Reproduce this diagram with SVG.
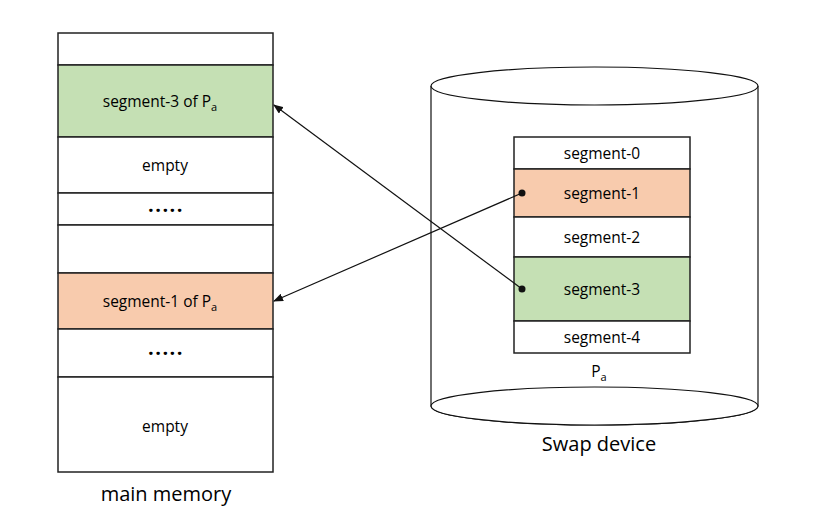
<svg xmlns="http://www.w3.org/2000/svg" width="833" height="522" viewBox="0 0 833 522">
<style>
.cell{stroke:#222;stroke-width:1.5}
.w{fill:#fff}.g{fill:#C5E0B4}.o{fill:#F8CBAD}
.t{font-family:"Open Sans","Noto Sans",sans-serif;font-size:15.5px;fill:#000;text-anchor:middle}
.dots{font-family:"Open Sans","Noto Sans",sans-serif;font-size:20px;font-weight:bold;fill:#000;text-anchor:middle;letter-spacing:1.5px}
.big{font-family:"Open Sans","Noto Sans",sans-serif;font-size:20px;fill:#000;text-anchor:middle}
.cyl{fill:#fff;stroke:#111;stroke-width:1.2}
.conn{stroke:#111;stroke-width:1.2;fill:none}
</style>
<defs>
<marker id="ah" markerWidth="10" markerHeight="8" refX="9" refY="4" orient="auto" markerUnits="userSpaceOnUse">
<path d="M0,0 L10,4 L0,8 Z" fill="#111"/>
</marker>
</defs>
<rect width="833" height="522" fill="#fff"/>
<g id="main-memory">
<rect class="cell w" x="58" y="33" width="215" height="32"/>
<rect class="cell g" x="58" y="65" width="215" height="72"/>
<text class="t" x="160" y="107">segment-3 of P<tspan font-size="11" dy="4">a</tspan></text>
<rect class="cell w" x="58" y="137" width="215" height="56"/>
<text class="t" x="165" y="171">empty</text>
<rect class="cell w" x="58" y="193" width="215" height="32"/>
<text class="dots" x="166" y="212">.....</text>
<rect class="cell w" x="58" y="225" width="215" height="48"/>
<rect class="cell o" x="58" y="273" width="215" height="56"/>
<text class="t" x="160" y="307">segment-1 of P<tspan font-size="11" dy="4">a</tspan></text>
<rect class="cell w" x="58" y="329" width="215" height="48"/>
<text class="dots" x="166" y="355">.....</text>
<rect class="cell w" x="58" y="377" width="215" height="95"/>
<text class="t" x="165" y="432">empty</text>
<text class="big" x="166" y="501">main memory</text>
</g>
<g id="swap-device">
<path class="cyl" d="M431,86 L431,406 A163.5,19 0 0 0 758,406 L758,86"/>
<ellipse class="cyl" cx="594.5" cy="86" rx="163.5" ry="19"/>
<ellipse class="cyl" cx="594.5" cy="406" rx="163.5" ry="19"/>
<text class="big" x="599" y="451">Swap device</text>
</g>
<g id="process-pa">
<rect class="cell w" x="514" y="137" width="176" height="32"/>
<text class="t" x="602" y="159">segment-0</text>
<rect class="cell o" x="514" y="169" width="176" height="48"/>
<text class="t" x="602" y="199">segment-1</text>
<rect class="cell w" x="514" y="217" width="176" height="40"/>
<text class="t" x="602" y="243">segment-2</text>
<rect class="cell g" x="514" y="257" width="176" height="64"/>
<text class="t" x="602" y="295">segment-3</text>
<rect class="cell w" x="514" y="321" width="176" height="32"/>
<text class="t" x="602" y="343">segment-4</text>
<text class="t" x="599" y="377">P<tspan font-size="11" dy="4">a</tspan></text>
</g>
<g id="connectors">
<circle cx="522" cy="193" r="3.5" fill="#111"/>
<line class="conn" x1="522" y1="193" x2="274" y2="301" marker-end="url(#ah)"/>
<circle cx="522" cy="289" r="3.5" fill="#111"/>
<line class="conn" x1="522" y1="289" x2="274" y2="105" marker-end="url(#ah)"/>
</g>
</svg>
